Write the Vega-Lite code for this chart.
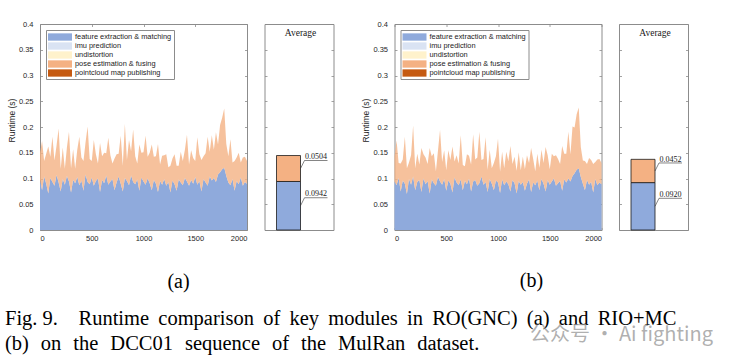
{
"$schema": "https://vega.github.io/schema/vega-lite/v6.json",
"background": "white",
"padding": {"left": 4, "top": 19, "right": 0, "bottom": 0},
"datasets": {
"ts": [
{"t":0,"fa":0.098,"pa":0.052,"fb":0.094,"pb":0.048},
{"t":20,"fa":0.077,"pa":0.096,"fb":0.087,"pb":0.087},
{"t":40,"fa":0.104,"pa":0.030,"fb":0.101,"pb":0.029},
{"t":60,"fa":0.090,"pa":0.058,"fb":0.075,"pb":0.054},
{"t":80,"fa":0.071,"pa":0.091,"fb":0.096,"pb":0.041},
{"t":100,"fa":0.101,"pa":0.041,"fb":0.090,"pb":0.091},
{"t":120,"fa":0.093,"pa":0.088,"fb":0.070,"pb":0.050},
{"t":140,"fa":0.086,"pa":0.049,"fb":0.099,"pb":0.032},
{"t":160,"fa":0.107,"pa":0.057,"fb":0.088,"pb":0.057},
{"t":180,"fa":0.092,"pa":0.105,"fb":0.104,"pb":0.099},
{"t":200,"fa":0.075,"pa":0.044,"fb":0.077,"pb":0.043},
{"t":220,"fa":0.099,"pa":0.061,"fb":0.093,"pb":0.055},
{"t":240,"fa":0.088,"pa":0.031,"fb":0.097,"pb":0.030},
{"t":260,"fa":0.105,"pa":0.055,"fb":0.074,"pb":0.085},
{"t":280,"fa":0.094,"pa":0.097,"fb":0.100,"pb":0.047},
{"t":300,"fa":0.073,"pa":0.047,"fb":0.089,"pb":0.052},
{"t":320,"fa":0.097,"pa":0.060,"fb":0.095,"pb":0.033},
{"t":340,"fa":0.091,"pa":0.028,"fb":0.071,"pb":0.088},
{"t":360,"fa":0.103,"pa":0.053,"fb":0.098,"pb":0.045},
{"t":380,"fa":0.087,"pa":0.094,"fb":0.091,"pb":0.058},
{"t":400,"fa":0.096,"pa":0.045,"fb":0.086,"pb":0.028},
{"t":420,"fa":0.076,"pa":0.058,"fb":0.103,"pb":0.051},
{"t":440,"fa":0.108,"pa":0.062,"fb":0.094,"pb":0.100},
{"t":460,"fa":0.093,"pa":0.108,"fb":0.088,"pb":0.044},
{"t":480,"fa":0.089,"pa":0.049,"fb":0.099,"pb":0.056},
{"t":500,"fa":0.102,"pa":0.032,"fb":0.076,"pb":0.040},
{"t":520,"fa":0.086,"pa":0.089,"fb":0.096,"pb":0.059},
{"t":540,"fa":0.095,"pa":0.052,"fb":0.090,"pb":0.046},
{"t":560,"fa":0.100,"pa":0.029,"fb":0.073,"pb":0.089},
{"t":580,"fa":0.074,"pa":0.095,"fb":0.102,"pb":0.031},
{"t":600,"fa":0.097,"pa":0.046,"fb":0.092,"pb":0.053},
{"t":620,"fa":0.091,"pa":0.059,"fb":0.087,"pb":0.042},
{"t":640,"fa":0.106,"pa":0.043,"fb":0.098,"pb":0.086},
{"t":660,"fa":0.088,"pa":0.091,"fb":0.077,"pb":0.049},
{"t":680,"fa":0.094,"pa":0.051,"fb":0.095,"pb":0.029},
{"t":700,"fa":0.099,"pa":0.030,"fb":0.089,"pb":0.058},
{"t":720,"fa":0.077,"pa":0.062,"fb":0.100,"pb":0.044},
{"t":740,"fa":0.092,"pa":0.055,"fb":0.075,"pb":0.052},
{"t":760,"fa":0.104,"pa":0.044,"fb":0.094,"pb":0.092},
{"t":780,"fa":0.090,"pa":0.093,"fb":0.097,"pb":0.040},
{"t":800,"fa":0.075,"pa":0.050,"fb":0.086,"pb":0.055},
{"t":820,"fa":0.101,"pa":0.105,"fb":0.091,"pb":0.100},
{"t":840,"fa":0.095,"pa":0.041,"fb":0.104,"pb":0.032},
{"t":860,"fa":0.087,"pa":0.088,"fb":0.088,"pb":0.050},
{"t":880,"fa":0.106,"pa":0.047,"fb":0.093,"pb":0.087},
{"t":900,"fa":0.093,"pa":0.102,"fb":0.074,"pb":0.043},
{"t":920,"fa":0.089,"pa":0.054,"fb":0.099,"pb":0.057},
{"t":940,"fa":0.098,"pa":0.031,"fb":0.090,"pb":0.030},
{"t":960,"fa":0.076,"pa":0.090,"fb":0.077,"pb":0.053},
{"t":980,"fa":0.102,"pa":0.048,"fb":0.096,"pb":0.047},
{"t":1000,"fa":0.094,"pa":0.057,"fb":0.092,"pb":0.085},
{"t":1020,"fa":0.088,"pa":0.095,"fb":0.072,"pb":0.041},
{"t":1040,"fa":0.100,"pa":0.042,"fb":0.098,"pb":0.054},
{"t":1060,"fa":0.091,"pa":0.059,"fb":0.087,"pb":0.033},
{"t":1080,"fa":0.077,"pa":0.089,"fb":0.094,"pb":0.058},
{"t":1100,"fa":0.097,"pa":0.045,"fb":0.089,"pb":0.045},
{"t":1120,"fa":0.090,"pa":0.053,"fb":0.075,"pb":0.088},
{"t":1140,"fa":0.074,"pa":0.093,"fb":0.097,"pb":0.031},
{"t":1160,"fa":0.095,"pa":0.032,"fb":0.091,"pb":0.051},
{"t":1180,"fa":0.088,"pa":0.056,"fb":0.071,"pb":0.044},
{"t":1200,"fa":0.099,"pa":0.046,"fb":0.095,"pb":0.056},
{"t":1220,"fa":0.086,"pa":0.061,"fb":0.088,"pb":0.028},
{"t":1240,"fa":0.093,"pa":0.029,"fb":0.093,"pb":0.049},
{"t":1260,"fa":0.073,"pa":0.052,"fb":0.076,"pb":0.042},
{"t":1280,"fa":0.096,"pa":0.043,"fb":0.090,"pb":0.055},
{"t":1300,"fa":0.089,"pa":0.058,"fb":0.098,"pb":0.032},
{"t":1320,"fa":0.076,"pa":0.049,"fb":0.074,"pb":0.085},
{"t":1340,"fa":0.098,"pa":0.027,"fb":0.092,"pb":0.046},
{"t":1360,"fa":0.092,"pa":0.060,"fb":0.087,"pb":0.027},
{"t":1380,"fa":0.087,"pa":0.047,"fb":0.096,"pb":0.052},
{"t":1400,"fa":0.101,"pa":0.055,"fb":0.077,"pb":0.044},
{"t":1420,"fa":0.094,"pa":0.091,"fb":0.099,"pb":0.057},
{"t":1440,"fa":0.086,"pa":0.041,"fb":0.090,"pb":0.040},
{"t":1460,"fa":0.097,"pa":0.058,"fb":0.075,"pb":0.086},
{"t":1480,"fa":0.090,"pa":0.050,"fb":0.097,"pb":0.048},
{"t":1500,"fa":0.103,"pa":0.031,"fb":0.088,"pb":0.030},
{"t":1520,"fa":0.088,"pa":0.092,"fb":0.094,"pb":0.054},
{"t":1540,"fa":0.095,"pa":0.052,"fb":0.100,"pb":0.043},
{"t":1560,"fa":0.075,"pa":0.061,"fb":0.086,"pb":0.059},
{"t":1580,"fa":0.099,"pa":0.044,"fb":0.091,"pb":0.047},
{"t":1600,"fa":0.092,"pa":0.057,"fb":0.095,"pb":0.033},
{"t":1620,"fa":0.086,"pa":0.095,"fb":0.076,"pb":0.087},
{"t":1640,"fa":0.104,"pa":0.048,"fb":0.098,"pb":0.050},
{"t":1660,"fa":0.096,"pa":0.088,"fb":0.092,"pb":0.056},
{"t":1680,"fa":0.101,"pa":0.055,"fb":0.100,"pb":0.091},
{"t":1700,"fa":0.093,"pa":0.097,"fb":0.094,"pb":0.053},
{"t":1720,"fa":0.108,"pa":0.058,"fb":0.105,"pb":0.096},
{"t":1740,"fa":0.112,"pa":0.092,"fb":0.110,"pb":0.089},
{"t":1760,"fa":0.118,"pa":0.100,"fb":0.117,"pb":0.108},
{"t":1780,"fa":0.121,"pa":0.115,"fb":0.120,"pb":0.118},
{"t":1800,"fa":0.105,"pa":0.062,"fb":0.103,"pb":0.058},
{"t":1820,"fa":0.092,"pa":0.051,"fb":0.090,"pb":0.045},
{"t":1840,"fa":0.087,"pa":0.089,"fb":0.077,"pb":0.057},
{"t":1860,"fa":0.099,"pa":0.032,"fb":0.097,"pb":0.031},
{"t":1880,"fa":0.076,"pa":0.058,"fb":0.088,"pb":0.052},
{"t":1900,"fa":0.095,"pa":0.046,"fb":0.093,"pb":0.043},
{"t":1920,"fa":0.089,"pa":0.061,"fb":0.073,"pb":0.055},
{"t":1940,"fa":0.102,"pa":0.029,"fb":0.099,"pb":0.033},
{"t":1960,"fa":0.086,"pa":0.055,"fb":0.087,"pb":0.050},
{"t":1980,"fa":0.093,"pa":0.049,"fb":0.092,"pb":0.046},
{"t":2000,"fa":0.090,"pa":0.044,"fb":0.089,"pb":0.041}
],
"avg": [
{"p":"a","k":"fa","v":0.0942},
{"p":"a","k":"pa","v":0.0504},
{"p":"b","k":"fb","v":0.0920},
{"p":"b","k":"pb","v":0.0452}
],
"hdr": [{"n":"Average"}]
},
"spacing": 17.5,
"bounds": "flush",
"resolve": {"scale": {"color": "independent"}, "legend": {"color": "independent"}},
"config": {
  "view": {"stroke": "#8c8c8c", "strokeWidth": 1},
  "axis": {"domain": false, "grid": false, "tickColor": "#8c8c8c", "tickSize": -2.5, "tickWidth": 0.8,
           "labelFont": "Liberation Sans", "labelFontSize": 7.5, "labelColor": "#262626",
           "titleFont": "Liberation Sans", "titleFontSize": 8.5, "titleFontWeight": "normal", "titleColor": "#262626"},
  "title": {"fontWeight": "normal", "color": "#000000"}
},
"hconcat": [
{
  "width": 207, "height": 206,
  "data": {"name": "ts"},
  "transform": [{"fold": ["fa", "pa"], "as": ["k", "v"]}],
  "title": {"text": ["Fig. 9.\u00a0\u00a0\u00a0 Runtime\u2009 comparison\u2009 of\u2009 key\u2009 modules\u2009 in\u2009 RO(GNC)\u2009 (a)\u2009 and\u2009 RIO+MC", "(b)\u2004 on\u2004 the\u2004 DCC01\u2004 sequence\u2004 of\u2004 the\u2004 MulRan\u2004 dataset."],
            "orient": "bottom", "anchor": "start", "frame": "group", "dx": -35, "offset": 67,
            "font": "Liberation Serif", "fontSize": 20.5, "lineHeight": 24.5},
  "layer": [
    {"mark": {"type": "area", "interpolate": "linear"},
     "encoding": {
       "x": {"field": "t", "type": "quantitative", "scale": {"domain": [0, 2000], "nice": false},
             "axis": {"values": [0, 500, 1000, 1500, 2000], "format": "d", "title": null, "labelPadding": 7}},
       "y": {"field": "v", "type": "quantitative", "stack": "zero", "scale": {"domain": [0, 0.4], "nice": false},
             "axis": {"values": [0, 0.05, 0.1, 0.15, 0.2, 0.25, 0.3, 0.35, 0.4], "format": "~g", "labelPadding": 9.5, "title": "Runtime (s)", "titlePadding": 2, "titleY": 96}},
       "color": {"field": "k", "type": "nominal",
                 "scale": {"domain": ["fa", "ia", "ua", "pa", "ca"], "range": ["#8faadc", "#dae3f3", "#fff2cc", "#f4b183", "#c55a11"]},
                 "legend": {"orient": "top-left", "offset": 6, "title": null, "strokeColor": "#8c8c8c", "fillColor": "#ffffff", "padding": 2, "rowPadding": 0,
                            "symbolType": "M-2.4,-0.73H2.4V0.73H-2.4Z", "symbolSize": 100, "symbolStrokeWidth": 0, "symbolOffset": 7, "labelOffset": 10,
                            "labelFont": "Liberation Sans", "labelFontSize": 7.4, "labelColor": "#1a1a1a", "labelLimit": 200,
                            "labelExpr": "substring(datum.label,0,1)=='f' ? 'feature extraction & matching' : substring(datum.label,0,1)=='i' ? 'imu prediction' : substring(datum.label,0,1)=='u' ? 'undistortion' : substring(datum.label,0,1)=='p' ? 'pose estimation & fusing' : 'pointcloud map publishing'"}},
       "order": {"field": "k", "sort": "ascending"},
       "fillOpacity": {"condition": {"test": "datum.k == 'pa'", "value": 0.8}, "value": 1}
     }},
    {"mark": {"type": "point", "opacity": 0},
     "encoding": {
       "x": {"field": "t", "type": "quantitative", "axis": {"orient": "top", "labels": false, "title": null, "values": [0, 500, 1000, 1500, 2000]}},
       "y": {"field": "v", "type": "quantitative", "axis": {"orient": "right", "labels": false, "title": null, "values": [0, 0.05, 0.1, 0.15, 0.2, 0.25, 0.3, 0.35, 0.4]}}
     }}
  ],
  "resolve": {"axis": {"x": "independent", "y": "independent"}}
},
{
  "width": 69, "height": 206,
  "data": {"name": "avg"},
  "transform": [{"filter": "datum.p == 'a'"}, {"stack": "v", "groupby": [], "sort": [{"field": "k"}], "as": ["y0", "y1"]}, {"calculate": "(datum.y0 + datum.y1) / 2", "as": "mid"}],
  "title": {"text": "(a)", "orient": "bottom", "anchor": "middle", "frame": "group", "dx": -120.5, "offset": 42, "font": "Liberation Serif", "fontSize": 20},
  "layer": [
    {"mark": {"type": "bar", "stroke": "#1a1a1a", "strokeWidth": 0.8},
     "encoding": {
       "x": {"datum": "Average", "type": "nominal", "scale": {"type": "band", "paddingInner": 0, "paddingOuter": 0.9375, "align": 0.267}, "axis": null},
       "y": {"field": "y0", "type": "quantitative", "scale": {"domain": [0, 0.4], "nice": false},
             "axis": {"orient": "left", "labels": false, "title": null, "values": [0, 0.05, 0.1, 0.15, 0.2, 0.25, 0.3, 0.35, 0.4]}},
       "y2": {"field": "y1"},
       "color": {"field": "k", "type": "nominal", "scale": {"domain": ["fa", "ia", "ua", "pa", "ca"], "range": ["#8faadc", "#dae3f3", "#fff2cc", "#f4b183", "#c55a11"]}, "legend": null}
     }},
    {"mark": {"type": "text", "font": "Liberation Serif", "fontSize": 8, "align": "center", "baseline": "alphabetic", "dx": 15.5, "dy": -9.3, "color": "#1a1a1a"},
     "encoding": {
       "x": {"datum": "Average", "type": "nominal", "bandPosition": 1},
       "y": {"field": "mid", "type": "quantitative", "axis": {"orient": "right", "labels": false, "title": null, "values": [0, 0.05, 0.1, 0.15, 0.2, 0.25, 0.3, 0.35, 0.4]}},
       "text": {"field": "v", "type": "quantitative", "format": ".4f"}
     }},
    {"mark": {"type": "rule", "color": "#333333", "strokeWidth": 0.6, "xOffset": 4, "x2Offset": 27, "yOffset": -8, "y2Offset": -8},
     "encoding": {
       "x": {"datum": "Average", "type": "nominal", "bandPosition": 1},
       "x2": {"datum": "Average", "bandPosition": 1},
       "y": {"field": "mid", "type": "quantitative", "axis": null},
       "y2": {"field": "mid"}
     }},
    {"mark": {"type": "rule", "color": "#333333", "strokeWidth": 0.6, "xOffset": 0, "x2Offset": 4, "yOffset": 0, "y2Offset": -8},
     "encoding": {
       "x": {"datum": "Average", "type": "nominal", "bandPosition": 1},
       "x2": {"datum": "Average", "bandPosition": 1},
       "y": {"field": "mid", "type": "quantitative", "axis": null},
       "y2": {"field": "mid"}
     }},
    {"data": {"name": "hdr"},
     "mark": {"type": "text", "font": "Liberation Serif", "fontSize": 9.5, "baseline": "middle", "align": "center", "color": "#1a1a1a"},
     "encoding": {
       "x": {"datum": "Average", "type": "nominal", "bandPosition": 1},
       "y": {"datum": 0.383, "type": "quantitative", "axis": null},
       "text": {"field": "n"}
     }}
  ],
  "resolve": {"axis": {"y": "independent"}}
},
{
  "width": 26, "height": 206,
  "data": {"values": []},
  "mark": "point",
  "view": {"stroke": null}
},
{
  "width": 207, "height": 206,
  "data": {"name": "ts"},
  "transform": [{"fold": ["fb", "pb"], "as": ["k", "v"]}],
  "title": {"text": "(b)", "orient": "bottom", "anchor": "middle", "frame": "group", "dx": 33.5, "offset": 29, "font": "Liberation Serif", "fontSize": 20},
  "layer": [
    {"mark": {"type": "area", "interpolate": "linear"},
     "encoding": {
       "x": {"field": "t", "type": "quantitative", "scale": {"domain": [0, 2000], "nice": false},
             "axis": {"values": [0, 500, 1000, 1500, 2000], "format": "d", "title": null, "labelPadding": 7}},
       "y": {"field": "v", "type": "quantitative", "stack": "zero", "scale": {"domain": [0, 0.4], "nice": false},
             "axis": {"values": [0, 0.05, 0.1, 0.15, 0.2, 0.25, 0.3, 0.35, 0.4], "format": "~g", "labelPadding": 9.5, "title": "Runtime (s)", "titlePadding": 2, "titleY": 96}},
       "color": {"field": "k", "type": "nominal",
                 "scale": {"domain": ["fb", "ib", "ub", "pb", "cb"], "range": ["#8faadc", "#dae3f3", "#fff2cc", "#f4b183", "#c55a11"]},
                 "legend": {"orient": "top-left", "offset": 6, "title": null, "strokeColor": "#8c8c8c", "fillColor": "#ffffff", "padding": 2, "rowPadding": 0,
                            "symbolType": "M-2.4,-0.73H2.4V0.73H-2.4Z", "symbolSize": 100, "symbolStrokeWidth": 0, "symbolOffset": 7, "labelOffset": 10,
                            "labelFont": "Liberation Sans", "labelFontSize": 7.4, "labelColor": "#1a1a1a", "labelLimit": 200,
                            "labelExpr": "substring(datum.label,0,1)=='f' ? 'feature extraction & matching' : substring(datum.label,0,1)=='i' ? 'imu prediction' : substring(datum.label,0,1)=='u' ? 'undistortion' : substring(datum.label,0,1)=='p' ? 'pose estimation & fusing' : 'pointcloud map publishing'"}},
       "order": {"field": "k", "sort": "ascending"},
       "fillOpacity": {"condition": {"test": "datum.k == 'pb'", "value": 0.8}, "value": 1}
     }},
    {"mark": {"type": "point", "opacity": 0},
     "encoding": {
       "x": {"field": "t", "type": "quantitative", "axis": {"orient": "top", "labels": false, "title": null, "values": [0, 500, 1000, 1500, 2000]}},
       "y": {"field": "v", "type": "quantitative", "axis": {"orient": "right", "labels": false, "title": null, "values": [0, 0.05, 0.1, 0.15, 0.2, 0.25, 0.3, 0.35, 0.4]}}
     }}
  ],
  "resolve": {"axis": {"x": "independent", "y": "independent"}}
},
{
  "width": 69, "height": 206,
  "data": {"name": "avg"},
  "transform": [{"filter": "datum.p == 'b'"}, {"stack": "v", "groupby": [], "sort": [{"field": "k"}], "as": ["y0", "y1"]}, {"calculate": "(datum.y0 + datum.y1) / 2", "as": "mid"}],
  "title": {"text": "公众号 · Ai fighting", "orient": "bottom", "anchor": "middle", "frame": "group", "dx": -32, "offset": 95, "font": "Noto Sans CJK SC", "fontSize": 20, "color": "rgba(150,150,150,0.75)"},
  "layer": [
    {"mark": {"type": "bar", "stroke": "#1a1a1a", "strokeWidth": 0.8},
     "encoding": {
       "x": {"datum": "Average", "type": "nominal", "scale": {"type": "band", "paddingInner": 0, "paddingOuter": 0.9375, "align": 0.267}, "axis": null},
       "y": {"field": "y0", "type": "quantitative", "scale": {"domain": [0, 0.4], "nice": false},
             "axis": {"orient": "left", "labels": false, "title": null, "values": [0, 0.05, 0.1, 0.15, 0.2, 0.25, 0.3, 0.35, 0.4]}},
       "y2": {"field": "y1"},
       "color": {"field": "k", "type": "nominal", "scale": {"domain": ["fb", "ib", "ub", "pb", "cb"], "range": ["#8faadc", "#dae3f3", "#fff2cc", "#f4b183", "#c55a11"]}, "legend": null}
     }},
    {"mark": {"type": "text", "font": "Liberation Serif", "fontSize": 8, "align": "center", "baseline": "alphabetic", "dx": 15.5, "dy": -9.3, "color": "#1a1a1a"},
     "encoding": {
       "x": {"datum": "Average", "type": "nominal", "bandPosition": 1},
       "y": {"field": "mid", "type": "quantitative", "axis": {"orient": "right", "labels": false, "title": null, "values": [0, 0.05, 0.1, 0.15, 0.2, 0.25, 0.3, 0.35, 0.4]}},
       "text": {"field": "v", "type": "quantitative", "format": ".4f"}
     }},
    {"mark": {"type": "rule", "color": "#333333", "strokeWidth": 0.6, "xOffset": 4, "x2Offset": 27, "yOffset": -8, "y2Offset": -8},
     "encoding": {
       "x": {"datum": "Average", "type": "nominal", "bandPosition": 1},
       "x2": {"datum": "Average", "bandPosition": 1},
       "y": {"field": "mid", "type": "quantitative", "axis": null},
       "y2": {"field": "mid"}
     }},
    {"mark": {"type": "rule", "color": "#333333", "strokeWidth": 0.6, "xOffset": 0, "x2Offset": 4, "yOffset": 0, "y2Offset": -8},
     "encoding": {
       "x": {"datum": "Average", "type": "nominal", "bandPosition": 1},
       "x2": {"datum": "Average", "bandPosition": 1},
       "y": {"field": "mid", "type": "quantitative", "axis": null},
       "y2": {"field": "mid"}
     }},
    {"data": {"name": "hdr"},
     "mark": {"type": "text", "font": "Liberation Serif", "fontSize": 9.5, "baseline": "middle", "align": "center", "color": "#1a1a1a"},
     "encoding": {
       "x": {"datum": "Average", "type": "nominal", "bandPosition": 1},
       "y": {"datum": 0.383, "type": "quantitative", "axis": null},
       "text": {"field": "n"}
     }}
  ],
  "resolve": {"axis": {"y": "independent"}}
}
]
}
